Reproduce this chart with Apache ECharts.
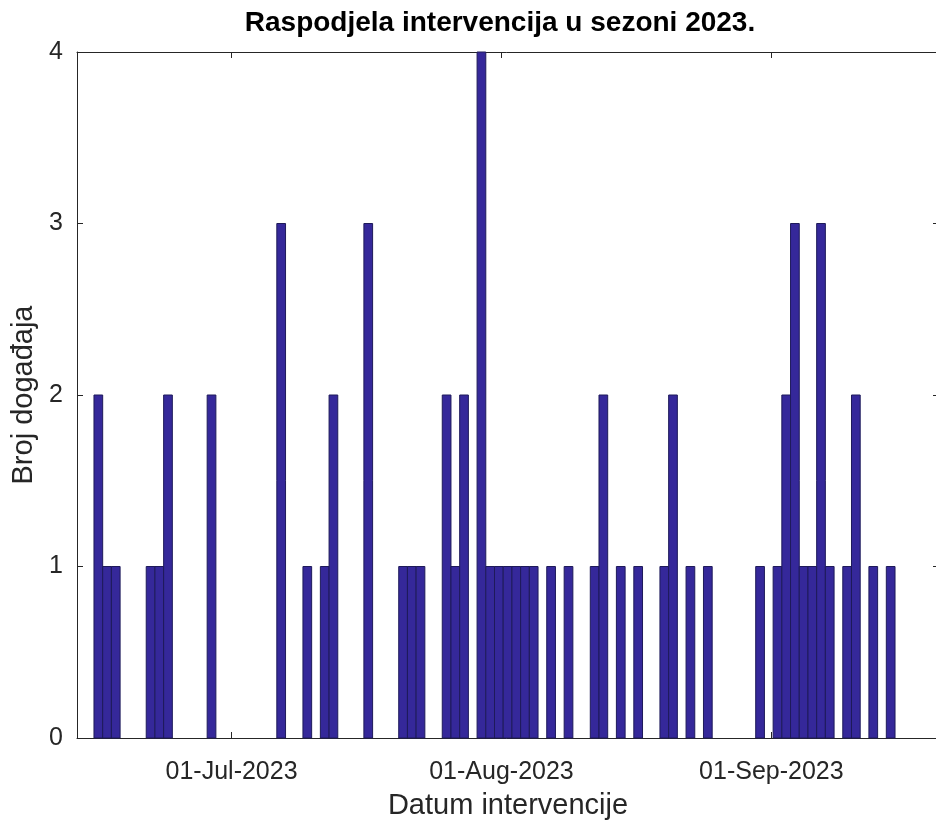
<!DOCTYPE html>
<html>
<head>
<meta charset="utf-8">
<script src="https://cdn.jsdelivr.net/npm/echarts@6/dist/echarts.min.js"></script>
<style>
  html, body { margin: 0; padding: 0; background: #ffffff; }
  #chart { width: 936px; height: 821px; }
</style>
</head>
<body>
<div id="chart"></div>
<script>
// ---- data ----
const eventDates = [
  '2023-06-15','2023-06-16','2023-06-17','2023-06-21','2023-06-22','2023-06-23',
  '2023-06-28','2023-07-06','2023-07-09','2023-07-11','2023-07-12','2023-07-16',
  '2023-07-20','2023-07-21','2023-07-22','2023-07-25','2023-07-26','2023-07-27',
  '2023-07-29','2023-07-30','2023-07-31','2023-08-01','2023-08-02','2023-08-03',
  '2023-08-04','2023-08-06','2023-08-08','2023-08-11','2023-08-12','2023-08-14',
  '2023-08-16','2023-08-19','2023-08-20','2023-08-22','2023-08-24','2023-08-30',
  '2023-09-01','2023-09-02','2023-09-03','2023-09-04','2023-09-05','2023-09-06',
  '2023-09-07','2023-09-09','2023-09-10','2023-09-12','2023-09-14'
];
const eventCounts = [
  2,1,1,1,1,2,
  2,3,1,1,2,3,
  1,1,1,2,1,2,
  4,1,1,1,1,1,
  1,1,1,1,2,1,
  1,1,2,1,1,1,
  1,2,3,1,1,3,
  1,1,2,1,1
];
const xTickDates = ['2023-07-01','2023-08-01','2023-09-01'];
const xTickLabels = ['01-Jul-2023','01-Aug-2023','01-Sep-2023'];
const yTicks = [0,1,2,3,4];
const xRange = ['2023-06-13T06:00:00Z','2023-09-20T06:00:00Z'];

const titleText = 'Raspodjela intervencija u sezoni 2023.';
const xName = 'Datum intervencije';
const yName = 'Broj događaja';

// ---- build ----
const DAY = 24 * 3600 * 1000;
const BIN_SHIFT = 0.2 * DAY; // bin edges sit slightly after midnight in the reference
const toTs = s => Date.parse(s.length === 10 ? s + 'T00:00:00Z' : s);
const seriesData = eventDates.map((d, i) => [toTs(d), eventCounts[i]]);
const tickTs = xTickDates.map(toTs);
const labelMap = {};
tickTs.forEach((t, i) => { labelMap[t] = xTickLabels[i]; });

const axisColor = '#262626';
const fontFam = '"Liberation Sans", Arial, sans-serif';

const chart = echarts.init(document.getElementById('chart'), null, { renderer: 'canvas' });

const xBase = {
  type: 'value',
  min: toTs(xRange[0]),
  max: toTs(xRange[1]),
  splitLine: { show: false },
  axisLine: { show: true, onZero: false, lineStyle: { color: axisColor, width: 1 } },
  axisTick: { show: true, inside: true, length: 6, customValues: tickTs, lineStyle: { color: axisColor } }
};

chart.setOption({
  backgroundColor: '#ffffff',
  animation: false,
  title: {
    text: titleText,
    left: 500,
    textAlign: 'center',
    top: 9,
    padding: 0,
    textStyle: { fontFamily: fontFam, fontWeight: 'bold', fontSize: 28, color: '#000000' }
  },
  grid: { left: 77, right: -3, top: 52, bottom: 83, containLabel: false, outerBoundsMode: 'none' },
  xAxis: [
    Object.assign({}, xBase, {
      position: 'bottom',
      name: xName,
      nameLocation: 'middle',
      nameGap: 53,
      nameTextStyle: { fontFamily: fontFam, fontSize: 29, color: axisColor },
      axisLabel: {
        show: true,
        customValues: tickTs,
        margin: 22,
        fontFamily: fontFam,
        fontSize: 25,
        color: axisColor,
        formatter: v => labelMap[v] || ''
      }
    }),
    Object.assign({}, xBase, { position: 'top', axisLabel: { show: false } })
  ],
  yAxis: [
    {
      type: 'value',
      min: yTicks[0],
      max: yTicks[yTicks.length - 1],
      interval: 1,
      position: 'left',
      name: yName,
      nameLocation: 'middle',
      nameGap: 35,
      nameTextStyle: { fontFamily: fontFam, fontSize: 29, color: axisColor },
      splitLine: { show: false },
      axisLine: { show: true, lineStyle: { color: axisColor } },
      axisTick: { show: true, inside: true, length: 6, lineStyle: { color: axisColor } },
      axisLabel: { fontFamily: fontFam, fontSize: 25, color: axisColor, margin: 14 }
    },
    {
      type: 'value',
      min: yTicks[0],
      max: yTicks[yTicks.length - 1],
      interval: 1,
      position: 'right',
      splitLine: { show: false },
      axisLine: { show: true, lineStyle: { color: axisColor } },
      axisTick: { show: true, inside: true, length: 6, lineStyle: { color: axisColor } },
      axisLabel: { show: false }
    }
  ],
  series: [{
    type: 'custom',
    xAxisIndex: 0,
    yAxisIndex: 0,
    data: seriesData,
    encode: { x: 0, y: 1 },
    renderItem: function (params, api) {
      const start = api.value(0) + BIN_SHIFT;
      const h = api.value(1);
      const p0 = api.coord([start, 0]);
      const p1 = api.coord([start + DAY, h]);
      return {
        type: 'rect',
        shape: { x: p0[0], y: p1[1], width: p1[0] - p0[0], height: p0[1] - p1[1] },
        style: { fill: '#35289a', stroke: '#1e1a5a', lineWidth: 1 }
      };
    }
  }]
});
</script>
</body>
</html>
